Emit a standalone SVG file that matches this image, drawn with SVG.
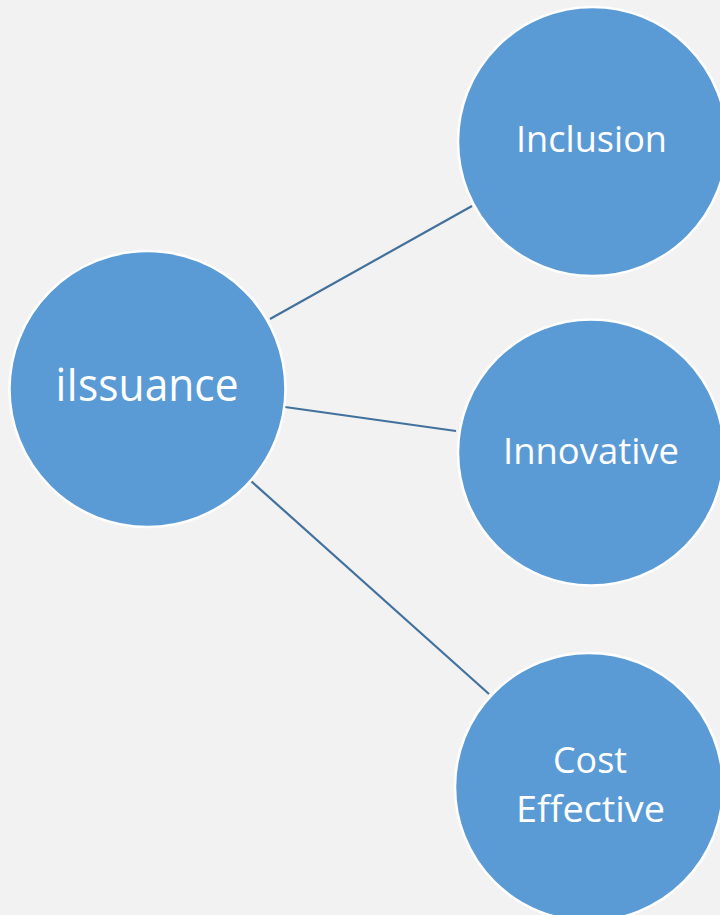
<svg xmlns="http://www.w3.org/2000/svg" width="720" height="915" viewBox="0 0 720 915">
<style>
.node circle{fill:#5B9BD5;stroke:#FFFFFF;stroke-width:2.5}
.node text{fill:#FFFFFF;font-family:"Open Sans","Noto Sans","Liberation Sans",sans-serif;font-size:37px;text-anchor:middle}
.node text.big{font-size:45px}
.conn line{stroke:#41719C;stroke-width:2.2}
</style>
<rect width="720" height="915" fill="#F2F2F2"/>
<g id="connectors" class="conn">
<line x1="270" y1="319" x2="472" y2="206"/>
<line x1="285" y1="407" x2="456" y2="431"/>
<line x1="251" y1="481" x2="489" y2="694"/>
</g>
<g id="node-iissuance" class="node">
<circle cx="147.5" cy="389" r="138"/>
<text class="big" x="147" y="401" textLength="183" lengthAdjust="spacingAndGlyphs">iIssuance</text>
</g>
<g id="node-inclusion" class="node">
<circle cx="592.5" cy="141.5" r="134.5"/>
<text x="591.5" y="152" textLength="151" lengthAdjust="spacingAndGlyphs">Inclusion</text>
</g>
<g id="node-innovative" class="node">
<circle cx="591" cy="452.5" r="133"/>
<text x="591" y="464" textLength="176" lengthAdjust="spacingAndGlyphs">Innovative</text>
</g>
<g id="node-cost" class="node">
<circle cx="589" cy="787" r="134"/>
<text x="590" y="773" textLength="74" lengthAdjust="spacingAndGlyphs">Cost</text>
<text x="590.5" y="822" textLength="149" lengthAdjust="spacingAndGlyphs">Effective</text>
</g>
</svg>
